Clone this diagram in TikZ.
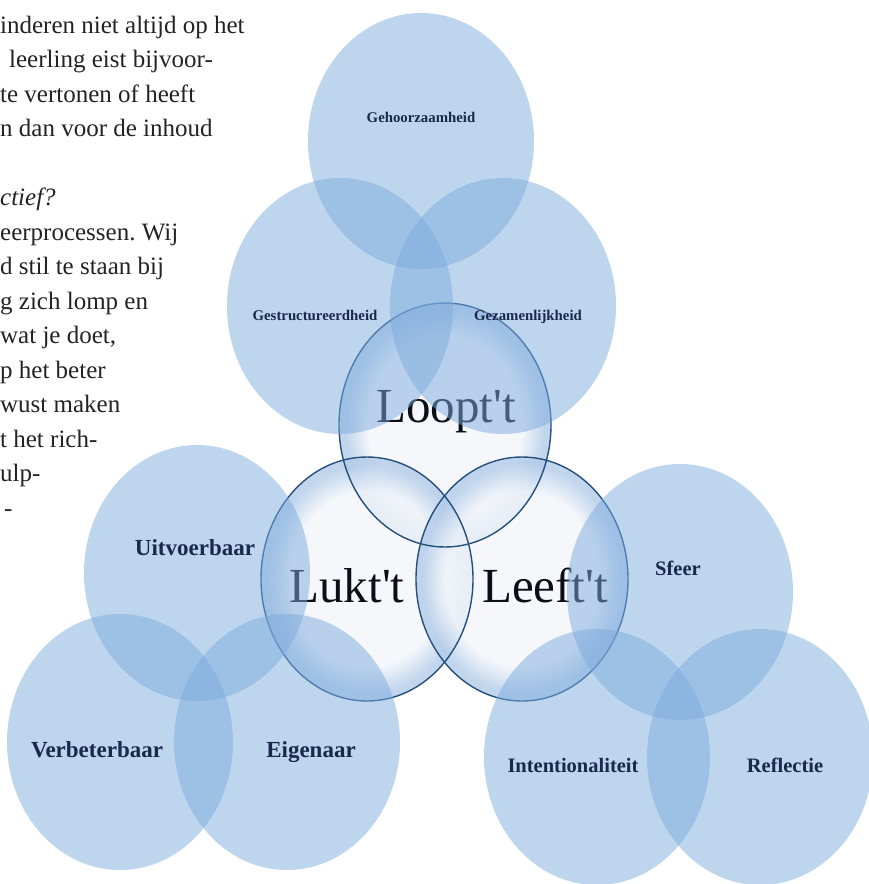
\documentclass[tikz,border=0pt]{standalone}
\usepackage{fontspec}
\setmainfont{Liberation Serif}
\usepackage{tikz}
\usepackage{xcolor}

\definecolor{circblue}{RGB}{125,171,221}
\definecolor{bubcore}{RGB}{242,245,250}
\definecolor{bubedge}{RGB}{178,203,232}
\definecolor{bubline}{RGB}{35,80,125}
\definecolor{labelblue}{RGB}{25,40,75}
\definecolor{bigblack}{RGB}{10,14,22}
\definecolor{bodygray}{RGB}{35,35,35}
\pgfdeclareradialshading{bubble}{\pgfpoint{0bp}{0bp}}{color(0bp)=(bubcore); color(18bp)=(bubcore); color(23.5bp)=(bubedge); color(25bp)=(bubedge); color(50bp)=(bubedge)}
\newcommand{\apo}{\textquotesingle}

\tikzset{
  bluecirc/.style={fill=circblue, fill opacity=0.5},
  bubblefill/.style={shading=bubble, opacity=0.8},
  bubbleline/.style={draw=bubline, line width=1.4pt},
  bodytext/.style={text=bodygray, font=\fontsize{25}{30}\selectfont\frenchspacing, anchor=base west, inner sep=0pt},
  smalllabel/.style={text=labelblue, font=\fontsize{14.8}{16}\selectfont\bfseries, anchor=base},
  leftlabel/.style={text=labelblue, font=\fontsize{23}{25}\selectfont\bfseries, anchor=base},
  rightlabel/.style={text=labelblue, font=\fontsize{20.5}{23}\selectfont\bfseries, anchor=base},
  biglabel/.style={text=bigblack, font=\fontsize{49}{52}\selectfont, anchor=base}
}

\begin{document}
\begin{tikzpicture}[x=1pt,y=-1pt]
  \useasboundingbox (0,0) rectangle (869,884);

  % running text at the left, cut off by the page
  \foreach \n/\t in {1/{inderen niet altijd op het}, 2/{\hspace*{9pt}leerling eist bijvoor-},
      3/{te vertonen of heeft}, 4/{n dan voor de inhoud}, 6/{\itshape ctief?},
      7/{eerprocessen. Wij}, 8/{d stil te staan bij}, 9/{g zich lomp en},
      10/{wat je doet,}, 11/{p het beter}, 12/{wust maken}, 13/{t het rich-},
      14/{ulp-}, 15/{\hspace*{4pt}-}}
    \node[bodytext] (line\n) at (0,{33+34.5*(\n-1)}) {\t};

  % the three bubbles in the middle
  \foreach \cx/\cy in {445/425, 367/579, 522/579}
    \shade[bubblefill] (\cx,\cy) ellipse [x radius=106, y radius=122];
  \foreach \cx/\cy in {445/425, 367/579, 522/579}
    \draw[bubbleline] (\cx,\cy) ellipse [x radius=106, y radius=122];
  \node[biglabel] (loopt) at (446,422) {Loopt\apo t};
  \node[biglabel] (lukt) at (347,602) {Lukt\apo t};
  \node[biglabel] (leeft) at (545,602) {Leeft\apo t};

  % blue circles, three groups of three
  \foreach \cx/\cy in {421/141, 340/306, 503/306,
                       197/573, 120/742, 287/742,
                       680/592, 597/757, 760/757}
    \fill[bluecirc] (\cx,\cy) ellipse [x radius=113, y radius=128];

  \node[smalllabel] (geh) at (421,122) {Gehoorzaamheid};
  \node[smalllabel] (ges) at (315,320) {Gestructureerdheid};
  \node[smalllabel] (gez) at (528,320) {Gezamenlijkheid};
  \node[leftlabel] (uit) at (195,555) {Uitvoerbaar};
  \node[leftlabel] (ver) at (97,757) {Verbeterbaar};
  \node[leftlabel] (eig) at (311,757) {Eigenaar};
  \node[rightlabel] (sfe) at (678,575) {Sfeer};
  \node[rightlabel] (int) at (573,772) {Intentionaliteit};
  \node[rightlabel] (ref) at (785,772) {Reflectie};
\end{tikzpicture}
\end{document}
